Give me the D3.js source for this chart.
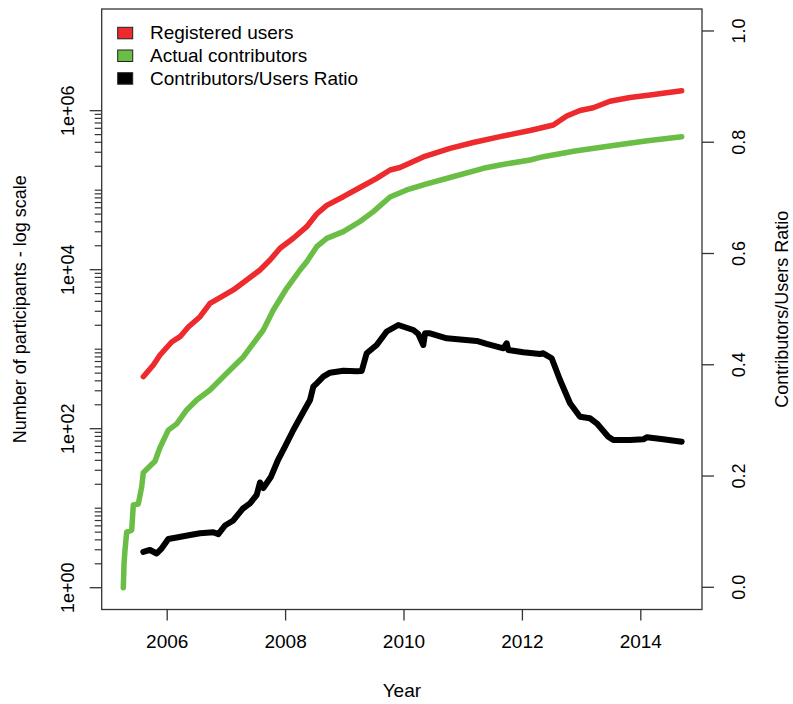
<!DOCTYPE html>
<html>
<head>
<meta charset="utf-8">
<script src="https://cdn.jsdelivr.net/npm/d3@7"></script>
<style>
  body { margin: 0; background: #fff; }
  svg { display: block; }
  text { font-family: "Liberation Sans", Arial, sans-serif; fill: #000; }
</style>
</head>
<body>
<svg id="chart" width="793" height="704"></svg>
<script>
// Registered users over time (decimal year, count)
const usersYear  = [2005.605, 2005.774, 2005.887, 2006.084, 2006.225, 2006.365, 2006.563, 2006.731, 2006.929,
                    2007.125, 2007.351, 2007.576, 2007.745, 2007.914, 2008.139, 2008.365, 2008.534, 2008.703,
                    2008.983, 2009.265, 2009.547, 2009.772, 2009.941, 2010.334, 2010.785, 2011.179, 2011.630,
                    2012.137, 2012.530, 2012.757, 2012.981, 2013.206, 2013.488, 2013.826, 2014.164, 2014.699];
const usersCount = [451, 633, 845, 1233, 1437, 1901, 2564, 3776, 4571,
                    5559, 7419, 9911, 13240, 18590, 24830, 34750, 50200, 64500,
                    82800, 108000, 141000, 179500, 193000, 262000, 336000, 398000, 471000,
                    563000, 661000, 857000, 1007000, 1087000, 1315000, 1465000, 1575000, 1780000];

// Actual contributors over time
const contribYear  = [2005.267, 2005.279, 2005.296, 2005.324, 2005.409, 2005.436, 2005.520, 2005.578, 2005.605,
                      2005.718, 2005.802, 2005.887, 2006.027, 2006.169, 2006.338, 2006.507, 2006.731, 2006.900,
                      2007.069, 2007.294, 2007.463, 2007.632, 2007.801, 2008.027, 2008.252, 2008.365, 2008.534,
                      2008.703, 2008.983, 2009.265, 2009.490, 2009.772, 2010.054, 2010.392, 2010.785, 2011.348,
                      2011.630, 2012.137, 2012.361, 2012.897, 2013.544, 2014.122, 2014.699];
const contribCount = [1, 2, 3, 5, 5.3, 11, 11.3, 18.6, 28,
                      34, 39, 58, 96, 115, 172, 230, 307, 410,
                      548, 798, 1186, 1745, 3112, 5834, 9911, 12600, 19460,
                      24800, 30100, 40400, 53700, 82100, 100700, 119700, 144500, 188500,
                      207600, 239900, 263800, 311000, 365000, 419500, 471000];

// Contributors / registered users ratio
const ratioYear  = [2005.605, 2005.718, 2005.831, 2005.916, 2006.027, 2006.169, 2006.395, 2006.563, 2006.787,
                    2006.872, 2006.985, 2007.125, 2007.289, 2007.407, 2007.520, 2007.576, 2007.632, 2007.762,
                    2007.880, 2007.998, 2008.139, 2008.307, 2008.421, 2008.476, 2008.534, 2008.645, 2008.758,
                    2008.983, 2009.209, 2009.294, 2009.378, 2009.547, 2009.716, 2009.912, 2010.166, 2010.250,
                    2010.334, 2010.363, 2010.448, 2010.730, 2011.236, 2011.405, 2011.686, 2011.743, 2011.770,
                    2012.024, 2012.306, 2012.361, 2012.503, 2012.644, 2012.813, 2012.981, 2013.149, 2013.264,
                    2013.459, 2013.544, 2013.826, 2014.051, 2014.108, 2014.389, 2014.699];
const ratioValue = [0.0635, 0.0671, 0.0608, 0.0701, 0.0868, 0.0895, 0.0940, 0.0971, 0.0989,
                    0.0955, 0.1111, 0.1201, 0.1417, 0.1510, 0.1659, 0.1884, 0.1785, 0.1988,
                    0.2288, 0.2527, 0.2828, 0.3151, 0.3367, 0.3606, 0.3667, 0.3786, 0.3858,
                    0.3894, 0.3885, 0.3888, 0.4206, 0.4356, 0.4598, 0.4715, 0.4625, 0.4553,
                    0.4356, 0.4566, 0.4566, 0.4476, 0.4428, 0.4374, 0.4296, 0.4386, 0.4266,
                    0.4224, 0.4194, 0.4206, 0.4117, 0.3726, 0.3308, 0.3067, 0.3038, 0.2948,
                    0.2707, 0.2648, 0.2648, 0.2660, 0.2696, 0.2660, 0.2617];

// Axis ticks and labels
const yearTicks   = [2006, 2008, 2010, 2012, 2014];
const countTicks  = [1, 1e2, 1e4, 1e6];
const countLabels = ["1e+00", "1e+02", "1e+04", "1e+06"];
const ratioTicks  = [0, 0.2, 0.4, 0.6, 0.8, 1.0];
const ratioLabels = ["0.0", "0.2", "0.4", "0.6", "0.8", "1.0"];

const legendLabels = ["Registered users", "Actual contributors", "Contributors/Users Ratio"];
const seriesColors = ["#ED2A2D", "#6ABD45", "#000000"];

const W = 793, H = 704;
const plot = { left: 101.7, right: 702, top: 9, bottom: 609.5 };

const svg = d3.select("#chart");

const x = d3.scaleLinear().domain([2004.902, 2015.042]).range([plot.left, plot.right]);
const yL = d3.scaleLog().domain([Math.pow(10, -0.274), Math.pow(10, 7.279)]).range([plot.bottom, plot.top]);
const yR = d3.scaleLinear().domain([-0.0399, 1.0395]).range([plot.bottom, plot.top]);

const zip = (xs, ys) => xs.map((d, i) => [d, ys[i]]);

const lineL = d3.line().x(d => x(d[0])).y(d => yL(d[1]));
const lineR = d3.line().x(d => x(d[0])).y(d => yR(d[1]));

const g = svg.append("g");

// series
g.append("path").datum(zip(usersYear, usersCount)).attr("d", lineL)
  .attr("fill", "none").attr("stroke", seriesColors[0]).attr("stroke-width", 5.5)
  .attr("stroke-linecap", "round").attr("stroke-linejoin", "round");
g.append("path").datum(zip(contribYear, contribCount)).attr("d", lineL)
  .attr("fill", "none").attr("stroke", seriesColors[1]).attr("stroke-width", 5.5)
  .attr("stroke-linecap", "round").attr("stroke-linejoin", "round");
g.append("path").datum(zip(ratioYear, ratioValue)).attr("d", lineR)
  .attr("fill", "none").attr("stroke", seriesColors[2]).attr("stroke-width", 6)
  .attr("stroke-linecap", "round").attr("stroke-linejoin", "round");

// frame
svg.append("rect")
  .attr("x", plot.left).attr("y", plot.top)
  .attr("width", plot.right - plot.left).attr("height", plot.bottom - plot.top)
  .attr("fill", "none").attr("stroke", "#333").attr("stroke-width", 1.3);

// bottom axis
const xAxis = d3.axisBottom(x).tickValues(yearTicks).tickSize(11).tickPadding(8).tickFormat(d3.format("d"));
const gx = svg.append("g").attr("transform", `translate(0,${plot.bottom})`).call(xAxis);
gx.select(".domain").remove();
gx.selectAll("line").attr("stroke", "#333").attr("stroke-width", 1.3);
gx.selectAll("text").attr("font-size", 19).attr("font-family", "Liberation Sans, Arial, sans-serif")
  .attr("dy", "1.05em");

// left axis (log): minor ticks at m*10^k, major labelled ticks at even decades
const minorCounts = [];
for (let k = 0; k <= 5; k++) for (let m = 1; m <= 9; m++) {
  const v = m * Math.pow(10, k);
  if (!(m === 1 && k % 2 === 0)) minorCounts.push(v);
}
svg.append("g").selectAll("line").data(minorCounts).join("line")
  .attr("x1", plot.left - 7).attr("x2", plot.left)
  .attr("y1", d => yL(d)).attr("y2", d => yL(d))
  .attr("stroke", "#333").attr("stroke-width", 1.2);
svg.append("g").selectAll("line").data(countTicks).join("line")
  .attr("x1", plot.left - 12).attr("x2", plot.left)
  .attr("y1", d => yL(d)).attr("y2", d => yL(d))
  .attr("stroke", "#333").attr("stroke-width", 1.3);
svg.append("g").selectAll("text").data(countTicks).join("text")
  .attr("transform", d => `translate(74,${yL(d)}) rotate(-90)`)
  .attr("text-anchor", "middle").attr("font-size", 18)
  .text((d, i) => countLabels[i]);

// right axis (ratio)
svg.append("g").selectAll("line").data(ratioTicks).join("line")
  .attr("x1", plot.right).attr("x2", plot.right + 12)
  .attr("y1", d => yR(d)).attr("y2", d => yR(d))
  .attr("stroke", "#333").attr("stroke-width", 1.3);
svg.append("g").selectAll("text").data(ratioTicks).join("text")
  .attr("transform", d => `translate(745,${yR(d)}) rotate(-90)`)
  .attr("text-anchor", "middle").attr("font-size", 18)
  .text((d, i) => ratioLabels[i]);

// axis titles
const midY = (plot.top + plot.bottom) / 2;
svg.append("text").attr("transform", `translate(26,${midY}) rotate(-90)`)
  .attr("text-anchor", "middle").attr("font-size", 18)
  .text("Number of participants - log scale");
svg.append("text").attr("transform", `translate(788,${midY}) rotate(-90)`)
  .attr("text-anchor", "middle").attr("font-size", 18)
  .text("Contributors/Users Ratio");
svg.append("text").attr("x", (plot.left + plot.right) / 2).attr("y", 697)
  .attr("text-anchor", "middle").attr("font-size", 19)
  .text("Year");

// legend
const legend = svg.append("g").attr("transform", "translate(117.7,27.3)");
const rowH = 22.7;
legend.selectAll("rect").data(legendLabels).join("rect")
  .attr("x", 0).attr("y", (d, i) => i * rowH)
  .attr("width", 15).attr("height", 11.5)
  .attr("fill", (d, i) => seriesColors[i]).attr("stroke", "#222").attr("stroke-width", 1);
legend.selectAll("text").data(legendLabels).join("text")
  .attr("x", 32.3).attr("y", (d, i) => i * rowH + 12)
  .attr("font-size", 19)
  .text(d => d);
</script>
</body>
</html>
